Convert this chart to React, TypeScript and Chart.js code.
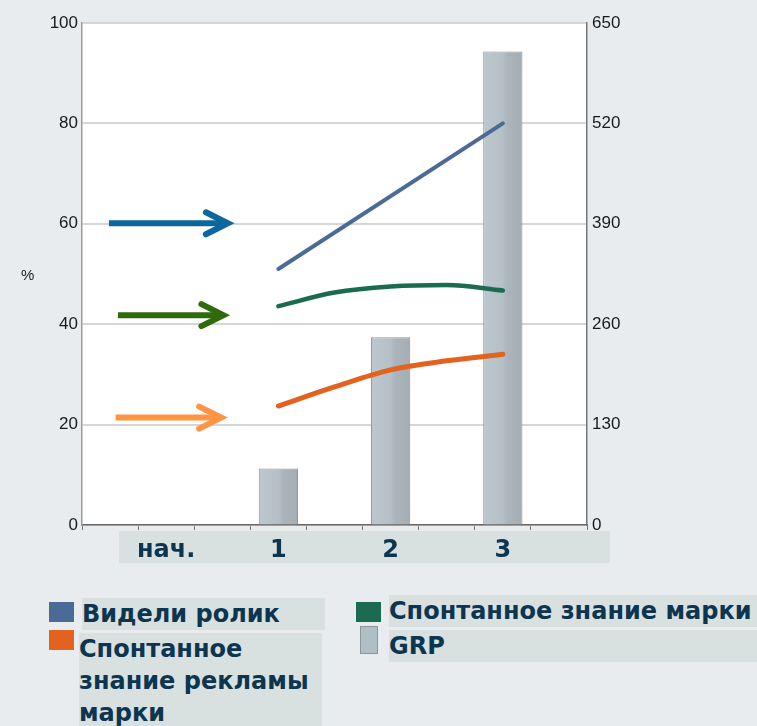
import React, { useEffect, useRef } from "react";
import { Chart, registerables } from "chart.js";

Chart.register(...registerables);

// ---- data ----
const categories = ["", "нач.", "", "1", "", "2", "", "3", ""];
const seenAd = [null, null, null, 51, null, null, null, 80, null];
const brandAwareness = [null, null, null, 43.6, 46.3, 47.5, 47.8, 46.7, null];
const adAwareness = [null, null, null, 23.7, 27.5, 30.9, 32.7, 34.0, null];
const grp = [null, null, null, 73, null, 243, null, 613, null];
const seriesNames = [
  "Видели ролик",
  "Спонтанное знание марки",
  "Спонтанное знание рекламы марки",
  "GRP",
];
// arrows (baseline levels at "нач."), in data space
const arrowValues = [60.1, 41.8, 21.4];
const arrowFrom = [-0.02, 0.14, 0.1];
const arrowTo = [2.1, 2.02, 1.98];
const arrowColors = ["#0b679c", "#2f6a0d", "#ff9445"];

const BG = "#e8ecee";
const BAND = "#d9e0e0";
const TEXT = "#0c3550";
const BLUE = "#4a6b95";
const GREEN = "#1a6b50";
const ORANGE = "#e2621f";

const plotBg = {
  id: "plotBg",
  beforeDraw(chart: any) {
    const { ctx, chartArea } = chart;
    ctx.save();
    ctx.fillStyle = "#ffffff";
    ctx.fillRect(chartArea.left, chartArea.top, chartArea.right - chartArea.left, chartArea.bottom - chartArea.top);
    ctx.fillStyle = BAND;
    ctx.fillRect(chartArea.left + 37, chartArea.bottom + 6, chartArea.right - chartArea.left - 14, 32);
    ctx.restore();
  },
};

const arrows = {
  id: "arrows",
  afterDatasetsDraw(chart: any) {
    const { ctx } = chart;
    const x = chart.scales.x;
    const y = chart.scales.y;
    ctx.save();
    arrowValues.forEach((v, i) => {
      const x0 = x.getPixelForValue(arrowFrom[i]);
      const x1 = x.getPixelForValue(arrowTo[i]);
      const py = y.getPixelForValue(v);
      ctx.strokeStyle = arrowColors[i];
      ctx.lineWidth = 6;
      ctx.lineCap = "butt";
      ctx.beginPath();
      ctx.moveTo(x0, py);
      ctx.lineTo(x1 - 2, py);
      ctx.stroke();
      ctx.lineCap = "round";
      ctx.lineJoin = "miter";
      ctx.beginPath();
      ctx.moveTo(x1 - 22, py - 11);
      ctx.lineTo(x1, py);
      ctx.lineTo(x1 - 22, py + 11);
      ctx.stroke();
    });
    ctx.restore();
  },
};

function ChartView() {
  const ref = useRef<HTMLCanvasElement>(null);
  useEffect(() => {
    if (!ref.current) return;
    const chart = new Chart(ref.current, {
      type: "bar",
      data: {
        labels: categories,
        datasets: [
          {
            type: "line",
            label: seriesNames[0],
            data: seenAd as any,
            yAxisID: "y",
            borderColor: BLUE,
            borderWidth: 4,
            pointRadius: 0,
            spanGaps: true,
            borderCapStyle: "round",
            order: 1,
          },
          {
            type: "line",
            label: seriesNames[1],
            data: brandAwareness as any,
            yAxisID: "y",
            borderColor: GREEN,
            borderWidth: 4.5,
            pointRadius: 0,
            cubicInterpolationMode: "monotone",
            borderCapStyle: "round",
            order: 1,
          },
          {
            type: "line",
            label: seriesNames[2],
            data: adAwareness as any,
            yAxisID: "y",
            borderColor: ORANGE,
            borderWidth: 5,
            pointRadius: 0,
            cubicInterpolationMode: "monotone",
            borderCapStyle: "round",
            order: 1,
          },
          {
            type: "bar",
            label: seriesNames[3],
            data: grp as any,
            yAxisID: "y1",
            categoryPercentage: 1,
            barPercentage: 0.7,
            borderColor: "#8c969b",
            borderWidth: 1,
            borderSkipped: "bottom",
            backgroundColor: (c: any) => {
              const ch = c.chart;
              if (!ch.chartArea) return "#b0bac1";
              const xs = ch.scales.x;
              const cx = xs.getPixelForValue(c.dataIndex);
              const w = (xs.width / categories.length) * 0.35;
              const g = ch.ctx.createLinearGradient(cx - w, 0, cx + w, 0);
              g.addColorStop(0, "#bcc7ce");
              g.addColorStop(0.5, "#b4bfc6");
              g.addColorStop(0.62, "#abb4ba");
              g.addColorStop(1, "#a4adb3");
              return g;
            },
            order: 2,
          },
        ],
      },
      options: {
        animation: false,
        responsive: false,
        maintainAspectRatio: false,
        layout: { padding: { top: 23, left: 0, right: 0, bottom: 0 } },
        plugins: { legend: { display: false }, tooltip: { enabled: false } },
        scales: {
          x: {
            offset: true,
            grid: { display: true, drawOnChartArea: false, drawTicks: true, tickLength: 5, color: "#777", offset: true },
            border: { color: "#666", width: 1.5 },
            ticks: {
              autoSkip: false,
              maxRotation: 0,
              padding: 6,
              color: TEXT,
              font: { family: "DejaVu Sans", weight: "bold", size: 24 },
            },
            afterFit: (s: any) => { s.height = 55; },
          },
          y: {
            position: "left",
            min: 0,
            max: 100,
            ticks: { stepSize: 20, padding: 4, color: "#1a1a1a", font: { family: "Liberation Sans", size: 17 } },
            grid: { color: "#d6d6d6", lineWidth: 2, drawTicks: false },
            border: { color: "#9a9a9a", width: 1.5 },
            afterFit: (s: any) => { s.width = 82; },
          },
          y1: {
            position: "right",
            min: 0,
            max: 650,
            ticks: { stepSize: 130, padding: 5, color: "#1a1a1a", font: { family: "Liberation Sans", size: 17 } },
            grid: { drawOnChartArea: false, drawTicks: false },
            border: { color: "#777", width: 1.5 },
            afterFit: (s: any) => { s.width = 170; },
          },
        },
      },
      plugins: [plotBg, arrows],
    });
    return () => chart.destroy();
  }, []);
  return <canvas ref={ref} width={757} height={580} style={{ position: "absolute", left: 0, top: 0 }} />;
}

const legendText: React.CSSProperties = {
  position: "absolute",
  background: BAND,
  color: TEXT,
  fontFamily: "DejaVu Sans",
  fontWeight: "bold",
  fontSize: 24,
  lineHeight: "32px",
  whiteSpace: "nowrap",
  overflow: "hidden",
};

export default function App() {
  return (
    <div style={{ position: "fixed", left: 0, top: 0, width: 757, height: 726, background: BG, overflow: "hidden" }}>
      <ChartView />
      <span style={{ position: "absolute", left: 21, top: 266, fontFamily: "Liberation Sans", fontSize: 15, color: "#1a1a1a" }}>%</span>
      {/* legend */}
      <div style={{ position: "absolute", left: 49, top: 602, width: 25, height: 20, background: BLUE }} />
      <div style={{ ...legendText, left: 82, top: 598, width: 243, height: 32 }}>{seriesNames[0]}</div>
      <div style={{ position: "absolute", left: 49, top: 630, width: 25, height: 20, background: ORANGE }} />
      <div style={{ ...legendText, left: 79, top: 633, width: 243, height: 100, whiteSpace: "normal", overflow: "visible" }}>{seriesNames[2]}</div>
      <div style={{ position: "absolute", left: 356, top: 602, width: 25, height: 20, background: GREEN }} />
      <div style={{ ...legendText, left: 389, top: 595, width: 368, height: 32 }}>{seriesNames[1]}</div>
      <div style={{ position: "absolute", left: 360, top: 626, width: 16, height: 26, background: "#b0bec5", border: "1px solid #8a9499" }} />
      <div style={{ ...legendText, left: 389, top: 630, width: 368, height: 32 }}>{seriesNames[3]}</div>
    </div>
  );
}
